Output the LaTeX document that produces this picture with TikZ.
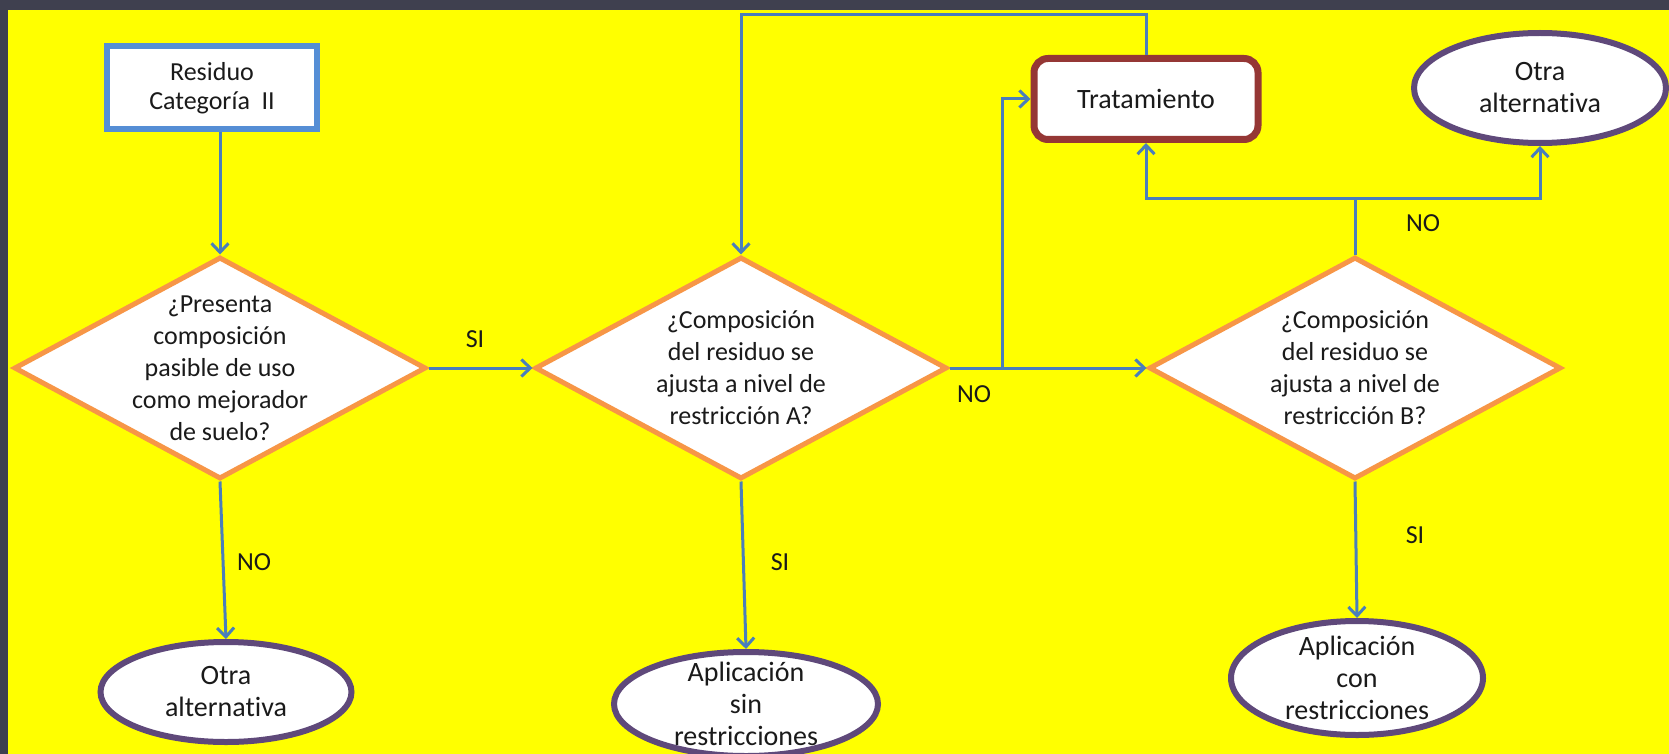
\documentclass[tikz,border=0pt]{standalone}
\usepackage{fontspec}
\setmainfont{Carlito}[Ligatures=NoCommon]
\usetikzlibrary{shapes.geometric,arrows.meta,calc}
\definecolor{bgdark}{HTML}{3F404F}
\definecolor{bgyellow}{HTML}{FFFF00}
\definecolor{linkblue}{HTML}{4A7EBB}
\definecolor{boxblue}{HTML}{558ED5}
\definecolor{decorange}{HTML}{F79646}
\definecolor{tratred}{HTML}{953735}
\definecolor{ovalpurple}{HTML}{5F497A}
\definecolor{txt}{HTML}{1A1A1A}
\tikzset{
  flow/.style={draw=linkblue,line width=3pt,-{Straight Barb[length=9pt,width=17pt]}},
  lbl/.style={font=\fontsize{26}{30}\selectfont,text=txt,inner sep=0pt},
  intext/.style={font=\fontsize{26}{32}\selectfont,text=txt,align=center,inner sep=0pt},
  ovaltext/.style={font=\fontsize{28}{32}\selectfont,text=txt,align=center,inner sep=0pt},
  startbox/.style={rectangle,draw=boxblue,line width=6pt,fill=white,minimum width=210pt,minimum height=83pt,inner sep=0pt,align=center,font=\fontsize{26}{29}\selectfont,text=txt},
  tratbox/.style={rectangle,rounded corners=14pt,draw=tratred,line width=7pt,fill=white,minimum width=224pt,minimum height=81pt,inner sep=0pt,font=\fontsize{28}{32}\selectfont,text=txt},
  decbox/.style={diamond,draw=decorange,line width=5pt,fill=white,minimum width=412pt,minimum height=222pt,inner sep=0pt},
  oval/.style={ellipse,draw=ovalpurple,line width=6pt,fill=white,inner sep=0pt}
}
\begin{document}
\begin{tikzpicture}[x=1pt,y=-1pt]
\fill[bgdark] (0,0) rectangle (1669,754);
\fill[bgyellow] (8,10) rectangle (1669,754);
\useasboundingbox (0,0) rectangle (1669,754);

% nodes
\node[startbox] (res) at (212,88) {Residuo\\Categoría\hspace{0.45em}II};
\node[decbox,label={[intext]center:{¿Presenta\\composición\\pasible de uso\\como mejorador\\de suelo?}}] (d1) at (220,368) {};
\node[decbox,label={[intext]center:{¿Composición\\del residuo se\\ajusta a nivel de\\restricción A?}}] (d2) at (741,368) {};
\node[decbox,label={[intext]center:{¿Composición\\del residuo se\\ajusta a nivel de\\restricción B?}}] (d3) at (1355,368) {};
\node[tratbox] (trat) at (1146,99) {Tratamiento};
\node[oval,minimum width=251pt,minimum height=100pt,label={[ovaltext]center:{Otra\\alternativa}}] (e1) at (226,692) {};
\node[oval,minimum width=264pt,minimum height=104pt,label={[ovaltext]center:{Aplicación\\sin\\restricciones}}] (e2) at (746,704) {};
\node[oval,minimum width=252pt,minimum height=114pt,label={[ovaltext]center:{Aplicación\\con\\restricciones}}] (e3) at (1357,678) {};
\node[oval,minimum width=252pt,minimum height=110pt,label={[ovaltext]center:{Otra\\alternativa}}] (e4) at (1540,88) {};

% helper coordinates
\coordinate (nb) at (1002,368);
\coordinate (topy) at (0,15);
\coordinate (hy) at (0,198);

% connectors
\draw[flow] (res.south -| d1.north) -- (d1.north);
\draw[flow] (d1.east) -- (d2.west);
\draw[flow] (d1.south) -- (e1.north);
\draw[flow] (d2.south) -- (e2.north);
\draw[flow] (d2.east) -- (d3.west);
\draw[flow] (nb) |- (trat.west);
\draw[flow] (trat.north) |- (d2.north |- topy) -- (d2.north);
\draw[flow] (d3.north) |- (trat.south |- hy) -- (trat.south);
\draw[flow] (d3.north) |- (e4.south |- hy) -- (e4.south);
\draw[flow] (d3.south) -- (e3.north);

% labels
\node[lbl] (l1) at (254,562) {NO};
\node[lbl] (l2) at (475,339) {SI};
\node[lbl] (l3) at (780,562) {SI};
\node[lbl] (l4) at (974,394) {NO};
\node[lbl] (l5) at (1423,223) {NO};
\node[lbl] (l6) at (1415,535) {SI};
\end{tikzpicture}
\end{document}
